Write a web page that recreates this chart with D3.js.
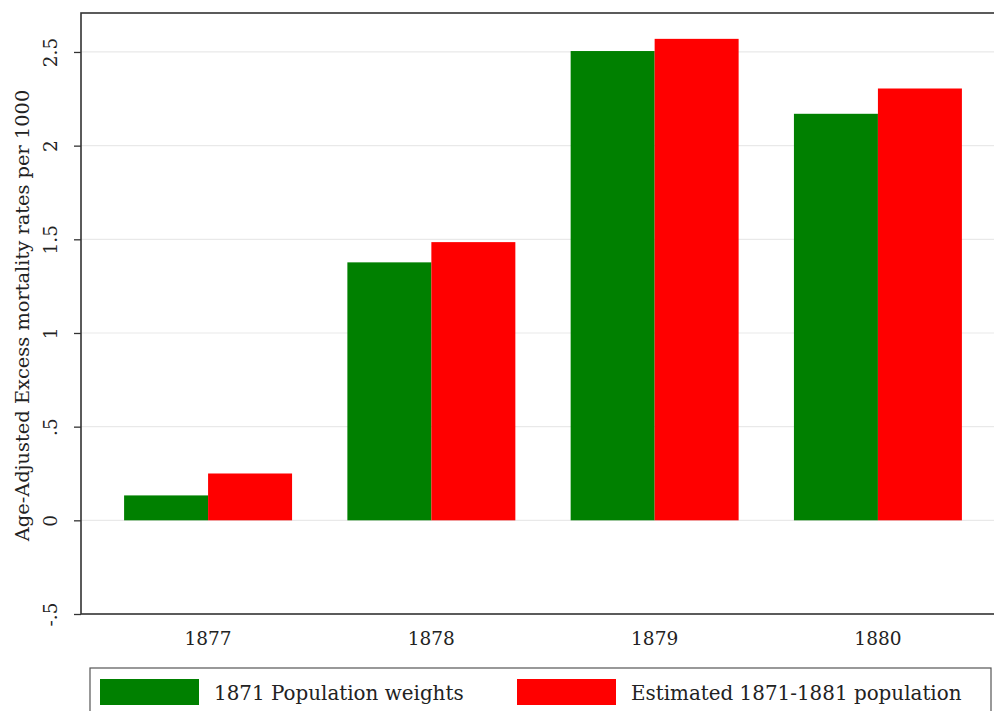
<!DOCTYPE html>
<html>
<head>
<meta charset="utf-8">
<script src="https://cdn.jsdelivr.net/npm/d3@7"></script>
<style>
  body { margin: 0; background: #fff; }
  svg { display: block; font-family: "DejaVu Serif", serif; }
</style>
</head>
<body>
<svg class="bar-chart" width="994" height="711"></svg>
<script>
const years = ["1877", "1878", "1879", "1880"];
const weights1871 = [0.133, 1.377, 2.505, 2.17];
const estimated = [0.25, 1.485, 2.57, 2.305];
const seriesNames = ["1871 Population weights", "Estimated 1871-1881 population"];
const seriesColors = ["#008000", "#ff0000"];
const yTicks = [-0.5, 0, 0.5, 1, 1.5, 2, 2.5];
const yTickLabels = ["-.5", "0", ".5", "1", "1.5", "2", "2.5"];
const yTitle = "Age-Adjusted Excess mortality rates per 1000";

const plotLeft = 81, plotRight = 1005, plotTop = 13, plotBottom = 614;

const svg = d3.select("svg.bar-chart");

const xScale = d3.scaleBand()
   .domain(years)
   .range([plotLeft, plotRight])
   .paddingInner(0.2477)
   .paddingOuter(0.193);

const subScale = d3.scaleBand()
   .domain([0, 1])
   .range([0, xScale.bandwidth()]);

const yScale = d3.scaleLinear()
   .domain([-0.5, 2.708])
   .range([plotBottom, plotTop]);

// gridlines
svg.append("g").attr("class", "grid")
   .selectAll("line")
   .data(yTicks.filter(d => d > -0.5))
   .join("line")
   .attr("x1", plotLeft)
   .attr("x2", plotRight)
   .attr("y1", d => yScale(d))
   .attr("y2", d => yScale(d))
   .attr("stroke", "#e9e9e9")
   .attr("stroke-width", 1.2);

// bars
const rows = years.map((y, i) => ({ year: y, values: [weights1871[i], estimated[i]] }));

svg.append("g").attr("class", "bars")
   .selectAll("g")
   .data(rows)
   .join("g")
   .attr("transform", d => `translate(${xScale(d.year)},0)`)
   .selectAll("rect")
   .data(d => d.values.map((v, k) => ({ k, v })))
   .join("rect")
   .attr("x", d => subScale(d.k))
   .attr("width", subScale.bandwidth())
   .attr("y", d => yScale(Math.max(0, d.v)))
   .attr("height", d => Math.abs(yScale(d.v) - yScale(0)))
   .attr("fill", d => seriesColors[d.k]);

// y axis
const yAxis = svg.append("g")
   .attr("transform", `translate(${plotLeft},0)`)
   .call(d3.axisLeft(yScale).tickValues(yTicks)
      .tickFormat((d, i) => yTickLabels[i]).tickSize(7).tickPadding(0));
yAxis.select(".domain").remove();
yAxis.selectAll(".tick line").attr("stroke", "#333").attr("stroke-width", 1.3);
yAxis.selectAll(".tick text")
   .attr("x", null).attr("dy", null)
   .attr("text-anchor", "middle")
   .attr("transform", "translate(-31,0) rotate(-90)")
   .attr("dominant-baseline", "central")
   .attr("fill", "#222")
   .style("font-size", "18.5px")
   .style("font-family", "DejaVu Serif, serif");

// x axis
const xAxis = svg.append("g")
   .attr("transform", `translate(0,${plotBottom})`)
   .call(d3.axisBottom(xScale).tickSize(0).tickPadding(18));
xAxis.select(".domain").remove();
xAxis.selectAll(".tick text")
   .attr("fill", "#222")
   .style("font-size", "18.5px")
   .style("font-family", "DejaVu Serif, serif");

// frame
svg.append("rect")
   .attr("x", plotLeft)
   .attr("y", plotTop)
   .attr("width", plotRight - plotLeft)
   .attr("height", plotBottom - plotTop)
   .attr("fill", "none")
   .attr("stroke", "#333")
   .attr("stroke-width", 1.6);

// y title
svg.append("text")
   .attr("transform", `translate(22,${(plotTop + plotBottom) / 2 + 2}) rotate(-90)`)
   .attr("text-anchor", "middle")
   .attr("dominant-baseline", "central")
   .attr("fill", "#222")
   .style("font-size", "19.4px")
   .text(yTitle);

// legend
const legend = svg.append("g").attr("class", "legend");
legend.append("rect")
   .attr("x", 90).attr("y", 668)
   .attr("width", 901).attr("height", 60)
   .attr("fill", "#fff")
   .attr("stroke", "#555")
   .attr("stroke-width", 1.2);

const legendX = [100, 517];
seriesNames.forEach((name, i) => {
   legend.append("rect")
      .attr("x", legendX[i]).attr("y", 679)
      .attr("width", 99).attr("height", 26)
      .attr("fill", seriesColors[i]);
   legend.append("text")
      .attr("x", legendX[i] + 114).attr("y", 693)
      .attr("dominant-baseline", "central")
      .attr("fill", "#222")
      .style("font-size", "19.9px")
      .text(name);
});
</script>
</body>
</html>
